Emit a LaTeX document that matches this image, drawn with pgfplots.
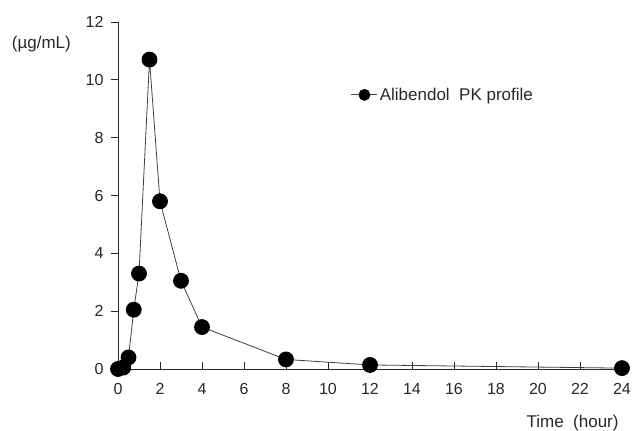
\documentclass[border=0pt]{standalone}
\usepackage{pgfplots}
\pgfplotsset{compat=1.18}
\usepackage{fontspec}
\setmainfont{Liberation Sans}
\definecolor{txt}{RGB}{40,40,40}
\begin{document}
\begin{tikzpicture}
\useasboundingbox (0,0) rectangle (633pt,431pt);
\begin{axis}[
    at={(118pt,62pt)}, anchor=south west,
    scale only axis, width=504pt, height=347pt,
    xmin=0, xmax=24, ymin=0, ymax=12,
    xtick={0,2,...,24}, ytick={0,2,...,12},
    axis x line*=bottom, axis y line*=left,
    axis line style={black!85, line width=0.8pt},
    tick align=inside, major tick length=7pt,
    tick style={black!85, line width=0.8pt},
    y tick style={xshift=-7pt},
    yticklabel style={xshift=-11pt},
    xticklabel style={yshift=-11pt},
    /pgf/number format/assume math mode=true,
    font=\fontsize{16}{18}\selectfont, text=txt,
    clip=false,
    legend style={at={(axis description cs:0.462,0.79)}, anchor=west,
        draw=none, fill=none, font=\fontsize{17}{19}\selectfont, text=txt,
        inner sep=0pt},
    legend cell align=left,
    legend image code/.code={
        \draw[black!75, line width=0.8pt] (0pt,0pt) -- (26pt,0pt);
        \fill[black] (13pt,0pt) circle (5.5pt);
    },
]
\addplot[black!75, line width=0.8pt, mark=*, mark size=7.5pt,
    mark options={fill=black, draw=black}] coordinates {
    (0,0) (0.25,0.05) (0.5,0.4) (0.75,2.05) (1,3.3) (1.5,10.7) (2,5.8)
    (3,3.05) (4,1.45) (8,0.33) (12,0.14) (24,0.03)
};
\addlegendentry{Alibendol\ \ PK profile}
\node[font=\fontsize{17}{19}\selectfont, text=txt] at (axis description cs:-0.152,0.937) {(µg/mL)};
\node[font=\fontsize{17}{19}\selectfont, text=txt] at (axis description cs:0.902,-0.156) {Time\ \ (hour)};
\end{axis}
\end{tikzpicture}
\end{document}
